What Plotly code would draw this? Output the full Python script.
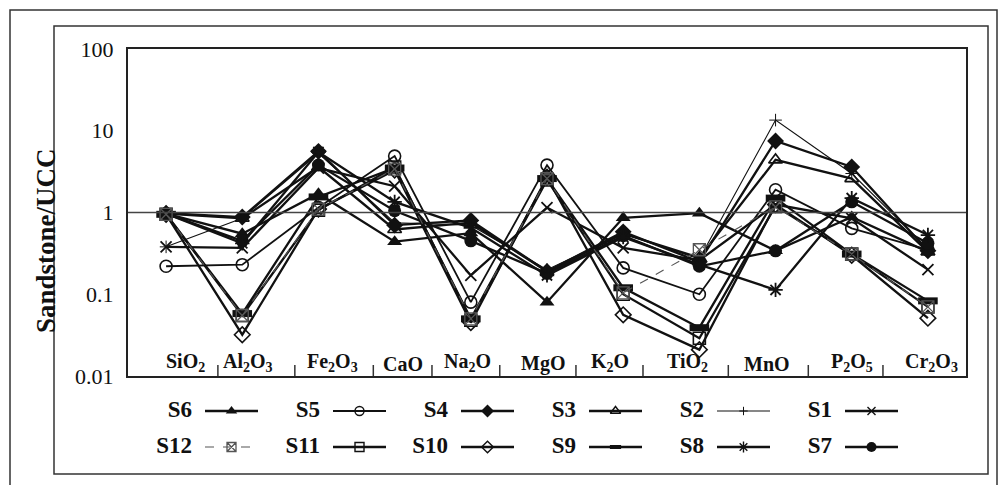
import plotly.graph_objects as go

# ---------------- data ----------------
elements = ["SiO2", "Al2O3", "Fe2O3", "CaO", "Na2O", "MgO", "K2O", "TiO2", "MnO", "P2O5", "Cr2O3"]
element_labels = ["SiO<sub>2</sub>", "Al<sub>2</sub>O<sub>3</sub>", "Fe<sub>2</sub>O<sub>3</sub>", "CaO",
                  "Na<sub>2</sub>O", "MgO", "K<sub>2</sub>O", "TiO<sub>2</sub>", "MnO",
                  "P<sub>2</sub>O<sub>5</sub>", "Cr<sub>2</sub>O<sub>3</sub>"]

S1 = [0.38, 0.37, 3.5, 2.1, 0.17, 1.15, 0.37, 0.26, 1.25, 0.85, 0.20]
S2 = [0.38, 0.85, 5.3, 0.75, 0.70, 0.20, 0.55, 0.27, 13.5, 3.0, 0.36]
S3 = [0.97, 0.85, 3.6, 0.62, 0.75, 0.19, 0.55, 0.28, 4.4, 2.6, 0.33]
S4 = [0.98, 0.88, 5.6, 0.70, 0.80, 0.19, 0.58, 0.25, 7.5, 3.6, 0.34]
S5 = [0.22, 0.23, 1.15, 4.9, 0.08, 3.8, 0.21, 0.10, 1.9, 0.64, 0.35]
S6 = [0.97, 0.55, 1.7, 0.44, 0.56, 0.08, 0.86, 0.98, 0.34, 0.88, 0.33]
S7 = [0.97, 0.45, 3.8, 1.05, 0.45, 0.18, 0.52, 0.22, 0.34, 1.35, 0.42]
S8 = [0.97, 0.42, 5.5, 1.35, 0.65, 0.17, 0.50, 0.23, 0.113, 1.5, 0.53]
S9 = [0.95, 0.058, 1.55, 3.5, 0.050, 2.6, 0.12, 0.039, 1.5, 0.31, 0.083]
S10 = [0.95, 0.032, 1.1, 3.3, 0.045, 2.7, 0.056, 0.021, 1.25, 0.30, 0.051]
S11 = [0.95, 0.055, 1.07, 3.6, 0.048, 2.5, 0.10, 0.029, 1.2, 0.31, 0.070]
S12 = [0.95, 0.055, 1.1, 3.4, 0.050, 2.6, 0.104, 0.35, 1.17, 0.31, 0.070]

series_names = ["S1", "S2", "S3", "S4", "S5", "S6", "S7", "S8", "S9", "S10", "S11", "S12"]
series_values = [S1, S2, S3, S4, S5, S6, S7, S8, S9, S10, S11, S12]

y_tickvals = [100, 10, 1, 0.1, 0.01]
y_ticktext = ["100", "10", "1", "0.1", "0.01"]
y_title = "Sandstone/UCC"

legend_rows = [["S6", "S5", "S4", "S3", "S2", "S1"],
               ["S12", "S11", "S10", "S9", "S8", "S7"]]

# ---------------- styles ----------------
W, H = 1003, 485
PL, PR, PT, PB = 128, 966, 49, 376   # plot box in pixels
FONT = "Liberation Serif"
INK = "#111"

styles = {
    "S1":  dict(symbol="x-thin-open", size=11, mlw=1.8, lw=2.3, dash="solid", color=INK),
    "S2":  dict(symbol="cross-thin-open", size=9, mlw=1.0, lw=1.1, dash="solid", color=INK),
    "S3":  dict(symbol="triangle-up-open", size=12, mlw=1.6, lw=2.3, dash="solid", color=INK),
    "S4":  dict(symbol="diamond", size=13, mlw=0, lw=2.3, dash="solid", color=INK),
    "S5":  dict(symbol="circle-open", size=12, mlw=1.6, lw=1.8, dash="solid", color=INK),
    "S6":  dict(symbol="triangle-up", size=13, mlw=0, lw=2.3, dash="solid", color=INK),
    "S7":  dict(symbol="circle", size=13, mlw=0, lw=2.3, dash="solid", color=INK),
    "S8":  dict(symbol="asterisk-open", size=12, mlw=1.8, lw=2.3, dash="solid", color=INK),
    "S9":  dict(symbol="line-ew-open", size=14, mlw=7, lw=2.3, dash="solid", color=INK),
    "S10": dict(symbol="diamond-open", size=12, mlw=1.6, lw=2.3, dash="solid", color=INK),
    "S11": dict(symbol="square-open", size=12, mlw=1.6, lw=2.3, dash="solid", color=INK),
    "S12": dict(symbol="square-x-open", size=12, mlw=1.3, lw=1.1, dash="dash", color="#555"),
}

# label / separator placement offsets (category units)
label_offset = [0.25, 0.08, 0.18, 0.11, -0.05, -0.05, -0.17, -0.16, -0.11, 0.0, 0.05]
sep_offset = [0.18, 0.19, 0.22, -0.01, -0.12, -0.12, -0.24, -0.12, -0.07, -0.09]

fig = go.Figure()

xpos = list(range(len(elements)))
for name, vals in zip(series_names, series_values):
    s = styles[name]
    fig.add_trace(go.Scatter(
        x=xpos, y=vals, mode="lines+markers", name=name,
        line=dict(color=s["color"], width=s["lw"], dash=s["dash"]),
        marker=dict(symbol=s["symbol"], size=s["size"], color=s["color"],
                    line=dict(color=s["color"], width=s["mlw"])),
        xaxis="x", yaxis="y", hoverinfo="name+y",
    ))

# ---------------- custom legend (text before sample) ----------------
row_y = [411, 447]
col_start, col_step, samp_len = 205, 128, 53
for r, row in enumerate(legend_rows):
    for c, name in enumerate(row):
        s = styles[name]
        x0 = col_start + col_step * c
        y0 = row_y[r]
        fig.add_trace(go.Scatter(
            x=[x0, x0 + samp_len], y=[y0, y0], mode="lines",
            line=dict(color=s["color"], width=s["lw"], dash=s["dash"]),
            xaxis="x2", yaxis="y2", hoverinfo="skip"))
        if s["symbol"] == "line-ew-open":
            msize, mlw = 8, 4
        else:
            msize, mlw = s["size"] - 3, min(s["mlw"], 1.4)
        fig.add_trace(go.Scatter(
            x=[x0 + samp_len / 2], y=[y0], mode="markers",
            marker=dict(symbol=s["symbol"], size=msize, color=s["color"],
                        line=dict(color=s["color"], width=mlw)),
            xaxis="x2", yaxis="y2", hoverinfo="skip"))
        fig.add_trace(go.Scatter(
            x=[x0 - 13], y=[y0], mode="text", text=[f"<b>{name}</b>"],
            textposition="middle left",
            textfont=dict(family=FONT, size=23, color=INK),
            xaxis="x2", yaxis="y2", hoverinfo="skip"))

# ---------------- annotations ----------------
ybot = (H - PB) / H
annotations = []
for i, lab in enumerate(element_labels):
    annotations.append(dict(
        x=i + label_offset[i], y=ybot, xref="x", yref="paper",
        text=f"<b>{lab}</b>", showarrow=False, yanchor="bottom", yshift=-1,
        font=dict(family=FONT, size=20, color=INK)))
annotations.append(dict(
    x=29 / W, y=(H - 241) / H, xref="paper", yref="paper", text=f"<b>{y_title}</b>",
    textangle=-90, showarrow=False, font=dict(family=FONT, size=27, color=INK)))

shapes = []
for j, off in enumerate(sep_offset):
    xs = j + 0.5 + off
    shapes.append(dict(type="line", xref="x", yref="paper", x0=xs, x1=xs,
                       y0=ybot, y1=ybot + 11 / H, line=dict(color="#333", width=1.5)))
# reference line at 1
shapes.append(dict(type="line", xref="x domain", yref="y", x0=0, x1=1, y0=1, y1=1,
                   line=dict(color="#444", width=1.5)))
# frames
shapes.append(dict(type="rect", xref="paper", yref="paper", x0=10 / W, x1=997 / W,
                   y0=-0.02, y1=(H - 10) / H, line=dict(color="#333", width=1.5)))
shapes.append(dict(type="rect", xref="paper", yref="paper", x0=54 / W, x1=988 / W,
                   y0=(H - 474) / H, y1=(H - 26) / H, line=dict(color="#333", width=1.5)))

fig.update_layout(
    width=W, height=H, autosize=False,
    margin=dict(l=0, r=0, t=0, b=0, autoexpand=False),
    paper_bgcolor="white", plot_bgcolor="white",
    showlegend=False,
    xaxis=dict(domain=[PL / W, PR / W], range=[-0.5, len(elements) - 0.5],
               showticklabels=False, ticks="", showgrid=False, zeroline=False, automargin=False,
               showline=True, mirror=True, linecolor="#222", linewidth=2, anchor="y"),
    yaxis=dict(domain=[(H - PB) / H, (H - PT) / H], type="log", range=[-2, 2],
               tickvals=y_tickvals, ticktext=y_ticktext, ticks="", ticklabelstandoff=8,
               tickfont=dict(family=FONT, size=22, color=INK), automargin=False,
               showgrid=False, zeroline=False,
               showline=True, mirror=True, linecolor="#222", linewidth=2, anchor="x"),
    xaxis2=dict(domain=[0, 1], range=[0, W], visible=False, anchor="y2", automargin=False),
    yaxis2=dict(domain=[0, (H - PB) / H], range=[H, PB], visible=False, anchor="x2", automargin=False),
    annotations=annotations,
    shapes=shapes,
)

fig.write_html("out.html", config={"displayModeBar": False},
               post_script="document.body.style.margin='0';document.body.style.overflow='hidden';")
